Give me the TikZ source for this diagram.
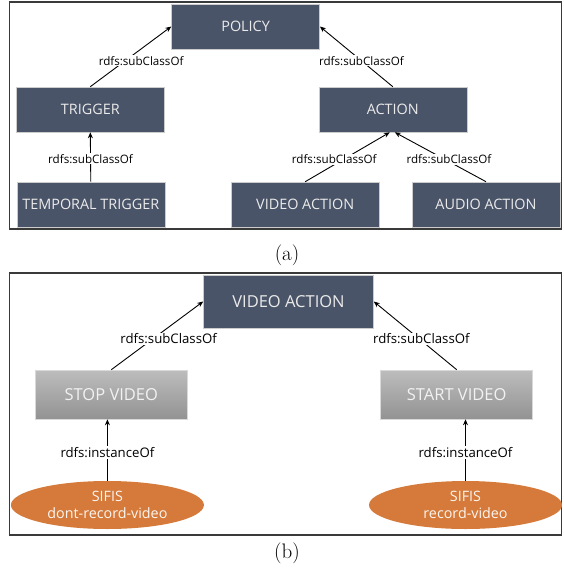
\documentclass[tikz,border=0pt]{standalone}
\usepackage{fontspec}
\setsansfont{Open Sans}
\usetikzlibrary{positioning, shapes.geometric, arrows.meta}
\definecolor{slate}{HTML}{4A5468}
\definecolor{sifis}{HTML}{D57A3A}
\definecolor{framegray}{HTML}{3A3A3A}

\begin{document}
\begin{tikzpicture}[x=1pt, y=-1pt,
    classbox/.style={draw=gray!40, line width=0.6pt, fill=slate, text=white!92!black, minimum width=148pt, minimum height=45pt, inner sep=0pt, font=\sffamily\fontsize{14.4}{16}\selectfont},
    bigclass/.style={classbox, minimum width=170pt, minimum height=53pt, font=\sffamily\fontsize{16.5}{18}\selectfont},
    instbox/.style={draw=gray!30, line width=0.6pt, top color=gray!52, bottom color=gray!85, text=white!95!black, minimum width=152pt, minimum height=49pt, inner sep=0pt, font=\sffamily\fontsize{16.5}{18}\selectfont},
    indiv/.style={ellipse, fill=sifis, text=white!93!sifis, minimum width=193pt, minimum height=48pt, inner sep=0pt, align=center, font=\sffamily\fontsize{14.3}{17}\selectfont},
    lbl/.style={fill=white, inner sep=1pt, font=\sffamily\fontsize{11.6}{13}\selectfont},
    biglbl/.style={lbl, font=\sffamily\fontsize{13.2}{15}\selectfont},
    link/.style={-{Stealth[length=6pt, width=5pt]}, line width=0.9pt},
    panel/.style={draw=framegray, line width=1.4pt}
]
    \useasboundingbox (0,0) rectangle (563,577);

    % (a) class hierarchy
    \draw[panel] (9.7,2) rectangle (561.5,229);
    \node[classbox] (policy) at (245.6,26.5) {POLICY};
    \node[classbox] (trigger) at (90.3,109.5) {TRIGGER};
    \node[classbox] (action) at (392.8,109.5) {ACTION};
    \node[classbox] (temporal) at (90.8,204.5) {TEMPORAL TRIGGER};
    \node[classbox] (videoact) at (305.2,204.5) {VIDEO ACTION};
    \node[classbox] (audioact) at (486,204.5) {AUDIO ACTION};

    \draw[link] (trigger.north) -- node[lbl, pos=.43, xshift=16pt] {rdfs:subClassOf} (policy.west);
    \draw[link] (action.north) -- node[lbl, pos=.43] {rdfs:subClassOf} (policy.east);
    \draw[link] (temporal.north) -- node[lbl, pos=.46] {rdfs:subClassOf} (trigger.south);
    \draw[link] (videoact.north) -- node[lbl, pos=.45, xshift=-9pt] {rdfs:subClassOf} ([xshift=-3pt]action.south);
    \draw[link] (audioact.north) -- node[lbl, pos=.45, xshift=4pt] {rdfs:subClassOf} ([xshift=2pt]action.south);

    \node (capa) at (287,255) {\fontsize{21}{22}\selectfont (a)};

    % (b) instances of VIDEO ACTION
    \draw[panel] (9.7,273) rectangle (561.5,535);
    \node[bigclass] (video) at (288.5,301.5) {VIDEO ACTION};
    \node[instbox] (stop) at (111.3,394.5) {STOP VIDEO};
    \node[instbox] (start) at (456.7,394.5) {START VIDEO};
    \node[indiv] (dont) at (107.4,505) {SIFIS\\dont-record-video};
    \node[indiv] (rec) at (465.5,505) {SIFIS\\record-video};

    \draw[link] (stop.north) -- node[biglbl, pos=.45, xshift=16pt] {rdfs:subClassOf} (video.west);
    \draw[link] (start.north) -- node[biglbl, pos=.45, xshift=2pt] {rdfs:subClassOf} (video.east);
    \foreach \inst/\cls in {dont/stop, rec/start} {
        \draw[link] (\inst.north) -- node[biglbl, pos=.46] {rdfs:instanceOf} (\inst.north |- \cls.south);
    }

    \node (capb) at (287,553) {\fontsize{21}{22}\selectfont (b)};
\end{tikzpicture}
\end{document}
